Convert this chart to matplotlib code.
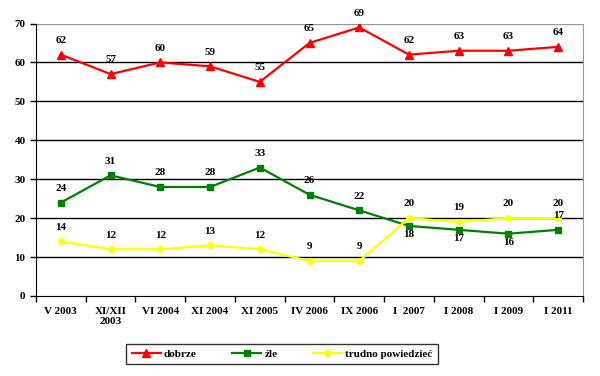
import matplotlib.pyplot as plt
import numpy as np

plt.rcParams['font.family'] = ['Liberation Serif', 'DejaVu Serif']
plt.rcParams['font.weight'] = 'bold'
plt.rcParams['font.size'] = 8

categories = ['V 2003', 'XI/XII\n2003', 'VI 2004', 'XI 2004', 'XI 2005', 'IV 2006',
              'IX 2006', 'I  2007', 'I 2008', 'I 2009', 'I 2011']
dobrze = [62, 57, 60, 59, 55, 65, 69, 62, 63, 63, 64]
zle = [24, 31, 28, 28, 33, 26, 22, 18, 17, 16, 17]
trudno = [14, 12, 12, 13, 12, 9, 9, 20, 19, 20, 20]
# where the label of "źle" goes below the point
zle_below = [False] * 7 + [True, True, True, False]

fig = plt.figure(figsize=(6, 3.76), dpi=100)
ax = fig.add_axes([0.06, 0.2128, 0.9117, 0.7247])

x = np.arange(len(categories))

for v in range(10, 80, 10):
    ax.axhline(v, color='black' if v < 70 else '#999999', lw=1, zorder=1)

ax.plot(x, dobrze, color='red', lw=1.6, marker='^', ms=5.5, label='dobrze', zorder=3)
ax.plot(x, zle, color='#008000', lw=1.6, marker='s', ms=4.5, label='źle', zorder=3)
ax.plot(x, trudno, color='yellow', lw=1.6, marker='o', ms=4, label='trudno powiedzieć', zorder=3)

for i in x:
    ax.annotate(str(dobrze[i]), (i, dobrze[i]), xytext=(0, 7), textcoords='offset points',
                ha='center', va='bottom', fontweight='bold')
    if zle_below[i]:
        ax.annotate(str(zle[i]), (i, zle[i]), xytext=(0, -3), textcoords='offset points',
                    ha='center', va='top', fontweight='bold')
    else:
        ax.annotate(str(zle[i]), (i, zle[i]), xytext=(0, 7), textcoords='offset points',
                    ha='center', va='bottom', fontweight='bold')
    ax.annotate(str(trudno[i]), (i, trudno[i]), xytext=(0, 7), textcoords='offset points',
                ha='center', va='bottom', fontweight='bold')

ax.set_xlim(-0.5, len(categories) - 0.5)
ax.set_ylim(0, 70)
ax.set_yticks(range(0, 80, 10))
ax.set_xticks(x)
ax.set_xticklabels(categories)
ax.set_xticks(np.arange(-0.5, len(categories)), minor=True)
ax.tick_params(axis='x', which='major', length=0, pad=8)
ax.tick_params(axis='x', which='minor', length=4, direction='out', width=1)
ax.tick_params(axis='y', length=4, direction='out', width=1)

ax.spines['top'].set_visible(False)
ax.spines['right'].set_color('#999999')
ax.spines['left'].set_color('black')
ax.spines['bottom'].set_color('black')

leg = fig.legend(loc='center', bbox_to_anchor=(0.47, 0.0585), ncol=3, frameon=True,
                 fancybox=False, edgecolor='black', handlelength=2.6, columnspacing=3.2,
                 borderpad=0.5, handletextpad=0.3)
leg.get_frame().set_linewidth(1)

fig.savefig('out.png', dpi=100)
